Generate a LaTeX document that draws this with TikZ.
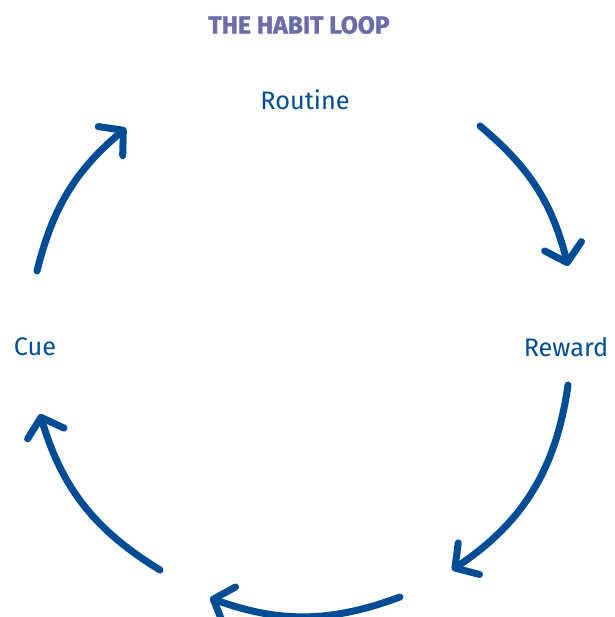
\documentclass[tikz,border=0pt]{standalone}
\usepackage{fontspec}
\setmainfont{Fira Sans}
\newfontfamily\headfont{Fira Sans Bold}[FakeBold=1.5]
\usetikzlibrary{arrows.meta}
\definecolor{loopblue}{HTML}{004D96}
\definecolor{titleblue}{HTML}{6A6EA8}
\tikzset{
  lbl/.style={text=loopblue,font=\fontsize{18}{20}\selectfont},
  arr/.style={draw=loopblue,line width=5pt,line cap=round,
    -{Straight Barb[length=0.42cm,width=0.95cm,round]}}
}
\begin{document}
\begin{tikzpicture}[x=0.025cm,y=-0.025cm]
\useasboundingbox (0,0) rectangle (615,617);
\node[text=titleblue,font=\headfont\fontsize{17.5}{20}\selectfont] (title) at (299,25) {THE HABIT LOOP};
\node[lbl] (routine) at (305,100) {Routine};
\node[lbl] (cue) at (35,347) {Cue};
\node[lbl] (reward) at (566,347) {Reward};
% ends of the arcs
\coordinate (a1) at (37,271);   \coordinate (b1) at (126,128);
\coordinate (a2) at (480,126);  \coordinate (b2) at (568,266);
\coordinate (a3) at (568,385);  \coordinate (b3) at (452,570);
\coordinate (a4) at (400,597);  \coordinate (b4) at (210,598);
\coordinate (a5) at (160,570);  \coordinate (b5) at (40,414);
\draw[arr] (a1) to[bend left=18] (b1);
\draw[arr] (a2) to[bend left=18] (b2);
\draw[arr] (a3) to[bend left=24] (b3);
\draw[arr] (a4) to[bend left=20] (b4);
\draw[arr] (a5) to[bend left=21] (b5);
\end{tikzpicture}
\end{document}
